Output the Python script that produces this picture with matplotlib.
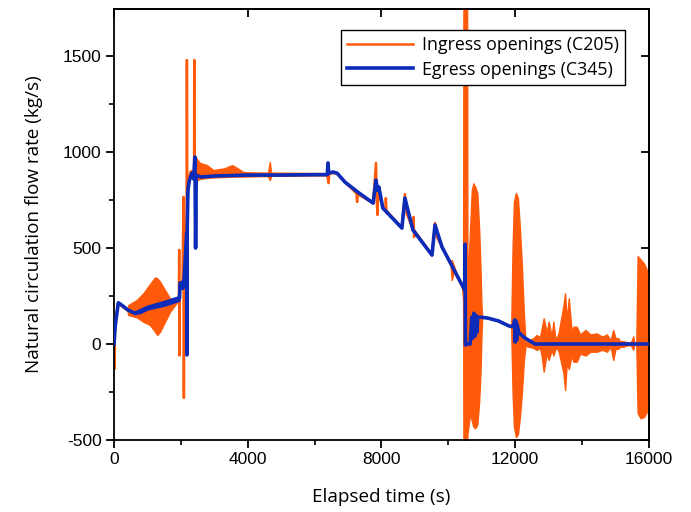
import matplotlib
matplotlib.use("Agg")
import matplotlib.pyplot as plt
from matplotlib.ticker import MultipleLocator

plt.rcParams["axes.unicode_minus"] = False

ORANGE = "#FF5A0A"
BLUE = "#0B2BB8"

# ---- Ingress openings (C205): traced flow-rate history (time s, kg/s)
ingress_t = [0, 10, 30, 120, 400, 650, 1100, 1700, 1900, 1940, 1950, 1955, 1960,
             2050, 2080, 2090, 2100, 2150, 2175, 2180, 2190, 2230, 2300, 2395,
             2400, 2410, 2450, 2500, 6370, 6420, 6440, 6460, 6670, 6910, 7250,
             7270, 7290, 7750, 7835, 7860, 7880, 7900, 8040, 8120, 8130, 8150,
             8170, 8610, 8700, 8750, 8940, 8960, 8975, 8990, 9510, 9600, 9650,
             9810, 10140, 10440, 10600, 10650, 10950, 11180, 11500, 11800,
             12000, 12300, 12600, 16000]
ingress_v = [0, -130, 100, 212, 175, 160, 195, 215, 235, 240, 490, -60, 300,
             330, 766, -281, 400, 550, 700, 1479, 700, 860, 900, 880,
             1479, 880, 970, 890, 885, 838, 900, 890, 888, 843, 785,
             740, 780, 734, 943, 740, 672, 800, 708, 700, 760, 682,
             690, 604, 781, 680, 600, 662, 557, 590, 463, 630, 560,
             505, 396, 290, 0, 0, 140, 135, 120, 95,
             73, 30, 0, 0]

# Oscillating stretches of the ingress signal: (time, upper, lower) envelopes
osc1_t = [400, 428, 678, 877, 1076, 1226, 1296, 1376, 1525, 1675, 1824, 1920]
osc1_hi = [180, 203, 229, 264, 312, 347, 342, 325, 281, 238, 229, 250]
osc1_lo = [175, 151, 139, 116, 99, 64, 47, 64, 116, 168, 203, 225]

plateau_t = [2450, 2570, 2780, 2970, 3300, 3530, 3700, 3860, 4300, 4600, 4660,
             4700, 5170, 5800, 6370]
plateau_hi = [970, 943, 932, 906, 915, 932, 915, 896, 890, 888, 948, 890, 890,
              888, 890]
plateau_lo = [850, 860, 865, 868, 870, 872, 872, 872, 874, 875, 854, 876, 876,
              878, 878]

osc2_t = [10060, 10100, 10140, 10180, 10220]
osc2_hi = [430, 437, 420, 400, 380]
osc2_lo = [420, 333, 360, 380, 375]

burst1_t = [10440, 10450, 10560, 10570, 10650, 10700, 10746, 10800, 10866,
            10920, 10960, 10990, 11010]
burst1_hi = [300, 1800, 1800, 300, 600, 800, 837, 820, 785, 600, 400, 200, 140]
burst1_lo = [290, -520, -520, -470, -361, -400, -430, -439, -420, -300, -150,
             50, 130]

burst2_t = [11880, 11920, 11960, 12020, 12080, 12140, 12200, 12260, 12300]
burst2_hi = [100, 500, 740, 787, 760, 600, 400, 150, 30]
burst2_lo = [60, -250, -430, -484, -470, -380, -250, -80, -20]

tail_t = [12300, 12540, 12640, 12740, 12790, 12850, 12940, 13000, 13090, 13140,
          13190, 13240, 13300, 13440, 13490, 13540, 13600, 13690, 13740, 13840,
          13940, 14100, 14250, 14440, 14600, 14740, 14850, 14930, 15000, 15080,
          15130, 15230, 15330, 15450, 15530, 15560, 15620]
tail_hi = [10, 30, 47, 35, 80, 134, 60, 116, 40, 116, 40, 30, 60, 200, 264,
           120, 238, 60, 90, 90, 50, 73, 50, 55, 38, 50, 20, 73, 30, 30, 15,
           15, 10, 5, 40, 5, 0]
tail_lo = [-10, -20, -31, -20, -60, -144, -50, -83, -30, -60, -30, -20, -40,
           -150, -240, -100, -130, -60, -92, -92, -50, -60, -40, -40, -30, -40,
           -15, -83, -25, -25, -15, -15, -8, -5, -30, -5, 0]

burst3_t = [15620, 15660, 15750, 15850, 15950, 16000]
burst3_hi = [0, 458, 440, 420, 380, 350]
burst3_lo = [0, -360, -387, -380, -350, -300]

# ---- Egress openings (C345)
egress_t = [0, 40, 130, 250, 420, 630, 800, 1075, 1400, 1675, 1910, 1960, 1975,
            2040, 2060, 2100, 2150, 2175, 2180, 2190, 2210, 2250, 2330, 2380,
            2420, 2440, 2460, 2600, 3000, 4000, 5000, 6000, 6380, 6400, 6420,
            6550, 6670, 6910, 7300, 7750, 7835, 7880, 7920, 8040, 8610, 8700,
            8940, 9510, 9600, 9810, 10140, 10490, 10500, 10510, 10550, 10650,
            10700, 10720, 10760, 10790, 10820, 10850, 10880, 10950, 11180,
            11500, 11800, 11950, 11980, 12000, 12020, 12040, 12060, 12100,
            12300, 12590, 16000]
egress_v = [0, 100, 215, 200, 177, 160, 165, 190, 200, 213, 234, 240, 318,
            320, 290, 350, 500, 578, -57, 600, 800, 850, 890, 860,
            974, 500, 880, 870, 875, 880, 880, 882, 882, 943, 890,
            896, 890, 843, 790, 734, 854, 800, 818, 708, 604, 760,
            594, 463, 620, 505, 396, 281, 520, -5, 0, 0,
            140, 30, 160, 40, 150, 60, 140, 140, 135,
            120, 95, 90, 125, 10, 120, 20, 100, 60,
            30, 0, 0]

egress_band_t = [600, 1000, 1500, 1950]
egress_band_hi = [168, 200, 225, 250]
egress_band_lo = [155, 180, 200, 225]

fig = plt.figure(figsize=(6.91, 5.12), dpi=100)
ax = fig.add_axes([114 / 691, 1 - 440 / 512, 535 / 691, 431 / 512])

# ingress trace and its oscillation envelopes
ax.plot(ingress_t, ingress_v, color=ORANGE, lw=1.8, zorder=2,
        label="Ingress openings (C205)")
for t, hi, lo in [(osc1_t, osc1_hi, osc1_lo), (plateau_t, plateau_hi, plateau_lo),
                  (osc2_t, osc2_hi, osc2_lo), (burst1_t, burst1_hi, burst1_lo),
                  (burst2_t, burst2_hi, burst2_lo), (tail_t, tail_hi, tail_lo),
                  (burst3_t, burst3_hi, burst3_lo)]:
    ax.fill_between(t, lo, hi, color=ORANGE, lw=1.0, edgecolor=ORANGE, zorder=2)

# egress trace
ax.fill_between(egress_band_t, egress_band_lo, egress_band_hi, color=BLUE,
                lw=1.0, edgecolor=BLUE, zorder=3)
ax.plot(egress_t, egress_v, color=BLUE, lw=2.6, zorder=3,
        label="Egress openings (C345)")

ax.set_xlim(0, 16000)
ax.set_ylim(-500, 1745)

ax.xaxis.set_major_locator(MultipleLocator(4000))
ax.xaxis.set_minor_locator(MultipleLocator(2000))
ax.yaxis.set_major_locator(MultipleLocator(500))
ax.yaxis.set_minor_locator(MultipleLocator(250))

for s in ax.spines.values():
    s.set_linewidth(1.3)

ax.tick_params(which="major", direction="out", length=6, width=1.3,
               labelsize=12.5, pad=3)
ax.tick_params(which="minor", direction="out", length=3.5, width=1.2)
for lab in ax.get_xticklabels() + ax.get_yticklabels():
    lab.set_fontfamily("Liberation Sans")

# inward major ticks on the top and right edges
sec_x = ax.secondary_xaxis("top")
sec_x.xaxis.set_major_locator(MultipleLocator(4000))
sec_x.tick_params(direction="in", length=6, width=1.3, labeltop=False)
sec_y = ax.secondary_yaxis("right")
sec_y.yaxis.set_major_locator(MultipleLocator(500))
sec_y.tick_params(direction="in", length=6, width=1.3, labelright=False)
sec_x.spines["top"].set_linewidth(1.3)
sec_y.spines["right"].set_linewidth(1.3)

ax.set_xlabel("Elapsed time (s)", fontfamily="Open Sans", fontsize=13.6,
              labelpad=15)
ax.set_ylabel("Natural circulation flow rate (kg/s)", fontfamily="Open Sans",
              fontsize=13.6, labelpad=14)

leg = ax.legend(loc="upper right", bbox_to_anchor=(0.955, 0.951),
                borderaxespad=0, fancybox=False, framealpha=1,
                edgecolor="black", handlelength=3.7, handletextpad=0.5,
                borderpad=0.35, labelspacing=0.35,
                prop={"family": "Open Sans", "size": 12.8})
leg.get_frame().set_linewidth(1.0)
leg.set_zorder(5)

fig.savefig("out.png", dpi=100)
